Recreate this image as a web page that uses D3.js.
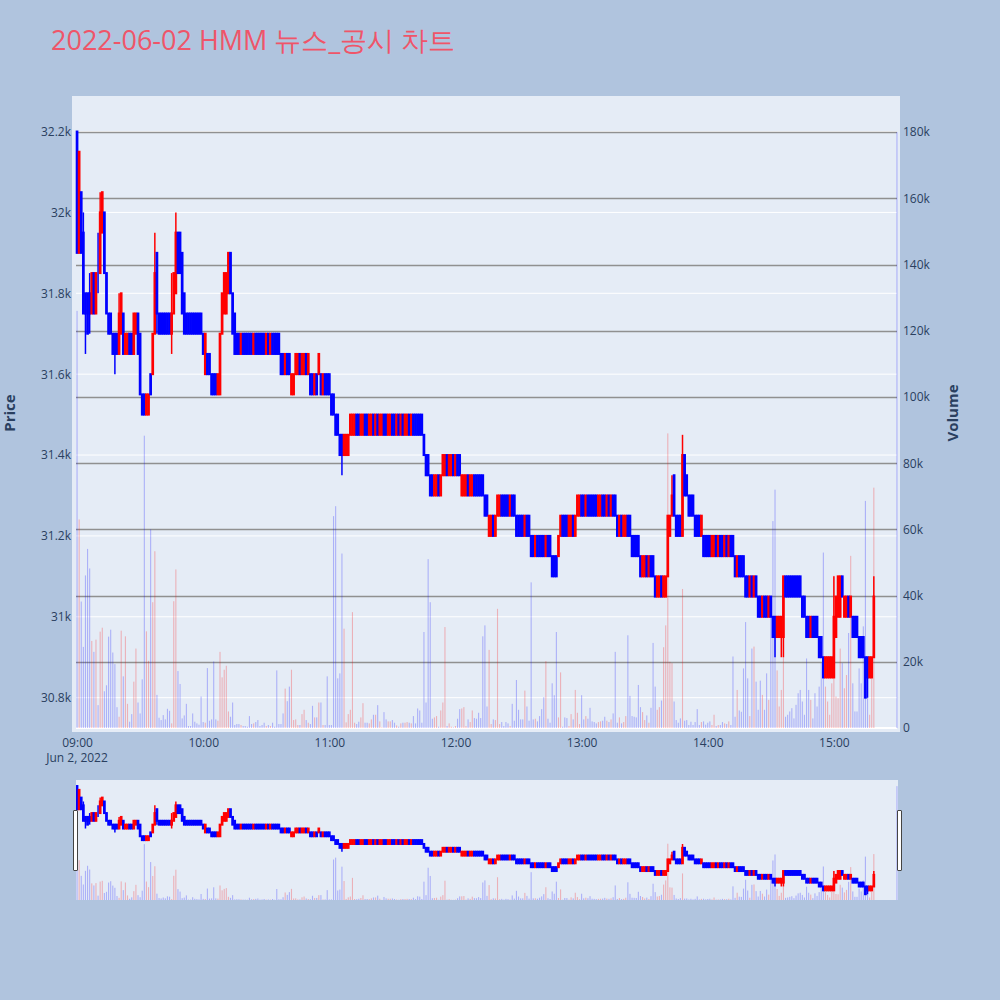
<!DOCTYPE html>
<html>
<head>
<meta charset="utf-8">
<script src="https://cdn.jsdelivr.net/npm/d3@7"></script>
<style>
  body { margin: 0; background: #b0c4de; }
  svg { display: block; }
</style>
</head>
<body>
<script>
// ---- data (1-minute candles, 2022-06-02, 09:00 .. 15:19 plus the 15:30 close) ----
const chartTitle = "2022-06-02 HMM 뉴스_공시 차트";
const sessionDay = "2022-06-02";
const firstMinute = "09:00";
const closingAuction = "15:30";

const open = [
  32200,31900,32050,31950,31800,31800,31800,31750,31850,31750,
  31850,31850,31950,32000,31850,31750,31750,31700,31700,31700,
  31650,31700,31750,31650,31650,31700,31700,31650,31700,31750,
  31700,31550,31550,31500,31500,31600,31600,31700,31900,31750,
  31750,31750,31750,31750,31750,31700,31750,31800,31950,31950,
  31900,31800,31750,31750,31750,31750,31750,31750,31750,31750,
  31700,31600,31650,31650,31600,31600,31600,31550,31550,31700,
  31750,31750,31800,31900,31800,31750,31700,31700,31650,31700,
  31700,31700,31700,31700,31650,31700,31700,31700,31700,31700,
  31650,31700,31650,31700,31700,31700,31700,31650,31650,31600,
  31650,31650,31550,31550,31600,31600,31650,31600,31600,31650,
  31600,31600,31600,31550,31600,31600,31600,31550,31600,31600,
  31600,31550,31550,31500,31500,31450,31450,31400,31400,31400,
  31450,31450,31450,31500,31500,31450,31450,31500,31500,31450,
  31450,31500,31450,31500,31450,31450,31500,31500,31450,31450,
  31500,31500,31450,31500,31450,31500,31450,31450,31500,31450,
  31500,31500,31500,31500,31500,31450,31400,31400,31350,31350,
  31300,31300,31350,31300,31350,31350,31400,31350,31350,31400,
  31350,31400,31400,31300,31300,31300,31350,31300,31300,31350,
  31350,31350,31350,31350,31300,31300,31200,31200,31250,31200,
  31250,31250,31300,31300,31300,31300,31250,31300,31300,31250,
  31250,31250,31250,31200,31250,31250,31200,31200,31150,31200,
  31200,31200,31200,31150,31200,31200,31150,31150,31150,31150,
  31200,31250,31250,31250,31200,31200,31250,31200,31250,31250,
  31300,31300,31250,31300,31300,31300,31300,31300,31250,31250,
  31300,31300,31250,31300,31250,31300,31300,31250,31200,31250,
  31200,31200,31250,31250,31200,31200,31200,31200,31150,31100,
  31100,31150,31100,31150,31150,31100,31050,31050,31100,31050,
  31050,31100,31200,31250,31350,31250,31250,31250,31200,31400,
  31350,31300,31300,31300,31250,31250,31250,31200,31200,31200,
  31200,31200,31150,31150,31200,31150,31200,31200,31150,31200,
  31150,31200,31200,31150,31100,31150,31150,31150,31100,31100,
  31050,31100,31050,31100,31050,31050,31000,31050,31050,31000,
  31050,31000,31000,30950,30950,30950,30950,31100,31100,31100,
  31100,31100,31100,31100,31100,31050,31050,31000,31000,30950,
  31000,31000,31000,30950,30950,30900,30850,30850,30850,30850,
  30850,30950,31000,31000,31100,31000,31000,31050,31000,31000,
  31000,31000,30950,30950,30950,30900,30900,30850,30850,30900,
  30850
];
const high = [
  32200,32150,32050,32000,31800,31800,31850,31850,31850,31850,
  31950,32050,32050,32000,31850,31750,31750,31700,31700,31700,
  31800,31800,31750,31700,31700,31700,31700,31750,31750,31750,
  31700,31550,31550,31550,31550,31600,31700,31950,31900,31750,
  31750,31750,31750,31750,31750,31850,31850,32000,31950,31950,
  31900,31800,31750,31750,31750,31750,31750,31750,31750,31750,
  31700,31700,31650,31650,31600,31600,31600,31600,31700,31800,
  31850,31850,31900,31900,31800,31750,31700,31700,31700,31700,
  31700,31700,31700,31700,31700,31700,31700,31700,31700,31700,
  31700,31700,31700,31700,31700,31700,31700,31650,31650,31650,
  31650,31650,31600,31600,31650,31650,31650,31650,31650,31650,
  31650,31600,31600,31600,31600,31650,31600,31600,31600,31600,
  31600,31550,31550,31500,31500,31450,31450,31450,31450,31450,
  31500,31500,31500,31500,31500,31500,31500,31500,31500,31500,
  31500,31500,31500,31500,31500,31500,31500,31500,31500,31500,
  31500,31500,31500,31500,31500,31500,31500,31500,31500,31500,
  31500,31500,31500,31500,31500,31450,31400,31400,31350,31350,
  31350,31350,31350,31350,31400,31400,31400,31400,31400,31400,
  31400,31400,31400,31350,31350,31350,31350,31350,31350,31350,
  31350,31350,31350,31350,31300,31300,31250,31250,31250,31250,
  31300,31300,31300,31300,31300,31300,31300,31300,31300,31250,
  31250,31250,31250,31250,31250,31250,31200,31200,31200,31200,
  31200,31200,31200,31200,31200,31200,31150,31150,31150,31200,
  31250,31250,31250,31250,31250,31250,31250,31250,31300,31300,
  31300,31300,31300,31300,31300,31300,31300,31300,31300,31300,
  31300,31300,31300,31300,31300,31300,31300,31250,31250,31250,
  31250,31250,31250,31250,31200,31200,31200,31200,31150,31150,
  31150,31150,31150,31150,31150,31100,31100,31100,31100,31100,
  31100,31250,31250,31350,31350,31250,31250,31250,31450,31400,
  31350,31300,31300,31300,31250,31250,31250,31250,31200,31200,
  31200,31200,31200,31200,31200,31200,31200,31200,31200,31200,
  31200,31200,31200,31150,31150,31150,31150,31150,31100,31100,
  31100,31100,31100,31100,31050,31050,31050,31050,31050,31050,
  31050,31000,31000,31000,31000,31000,31100,31100,31100,31100,
  31100,31100,31100,31100,31100,31050,31050,31000,31000,31000,
  31000,31000,31000,30950,30950,30900,30900,30900,30900,30900,
  31100,31050,31100,31100,31100,31050,31050,31050,31050,31000,
  31000,31000,30950,30950,30950,30900,30900,30900,30900,31100,
  30850
];
const low = [
  31900,31900,31900,31750,31650,31700,31700,31750,31750,31750,
  31800,31850,31950,31850,31750,31700,31700,31650,31600,31650,
  31650,31700,31650,31650,31650,31650,31650,31650,31700,31650,
  31550,31500,31500,31500,31500,31550,31600,31700,31700,31700,
  31700,31700,31700,31700,31700,31650,31750,31800,31850,31850,
  31750,31700,31700,31700,31700,31700,31700,31700,31700,31700,
  31650,31600,31600,31600,31550,31550,31550,31550,31550,31700,
  31750,31750,31800,31800,31700,31650,31650,31650,31650,31650,
  31650,31650,31650,31650,31650,31650,31650,31650,31650,31650,
  31650,31650,31650,31650,31650,31650,31650,31600,31600,31600,
  31600,31600,31550,31550,31600,31600,31600,31600,31600,31600,
  31600,31550,31550,31550,31550,31600,31550,31550,31550,31550,
  31550,31500,31500,31450,31450,31400,31350,31400,31400,31400,
  31450,31450,31450,31450,31450,31450,31450,31450,31450,31450,
  31450,31450,31450,31450,31450,31450,31450,31450,31450,31450,
  31450,31450,31450,31450,31450,31450,31450,31450,31450,31450,
  31450,31450,31450,31450,31450,31400,31350,31350,31300,31300,
  31300,31300,31300,31300,31350,31350,31350,31350,31350,31350,
  31350,31350,31350,31300,31300,31300,31300,31300,31300,31300,
  31300,31300,31300,31300,31250,31250,31200,31200,31200,31200,
  31250,31250,31250,31250,31250,31250,31250,31250,31250,31200,
  31200,31200,31200,31200,31200,31200,31150,31150,31150,31150,
  31150,31150,31150,31150,31150,31150,31100,31100,31100,31150,
  31200,31200,31200,31200,31200,31200,31200,31200,31250,31250,
  31250,31250,31250,31250,31250,31250,31250,31250,31250,31250,
  31250,31250,31250,31250,31250,31250,31250,31200,31200,31200,
  31200,31200,31200,31200,31150,31150,31150,31150,31100,31100,
  31100,31100,31100,31100,31100,31050,31050,31050,31050,31050,
  31050,31100,31200,31250,31250,31200,31200,31200,31200,31300,
  31300,31250,31250,31250,31200,31200,31200,31200,31150,31150,
  31150,31150,31150,31150,31150,31150,31150,31150,31150,31150,
  31150,31150,31150,31100,31100,31100,31100,31100,31050,31050,
  31050,31050,31050,31050,31000,31000,31000,31000,31000,31000,
  31000,30950,30900,30950,30950,30900,30900,31050,31050,31050,
  31050,31050,31050,31050,31050,31000,31000,30950,30950,30950,
  30950,30950,30950,30900,30900,30850,30850,30850,30850,30850,
  30850,30950,31000,31000,31050,31000,31000,31000,31000,30950,
  30950,30950,30900,30900,30900,30800,30800,30850,30850,30900,
  30850
];
const close = [
  31900,32150,31900,31750,31750,31700,31750,31850,31750,31850,
  31850,32000,32050,31850,31750,31700,31700,31650,31650,31650,
  31750,31800,31650,31700,31700,31650,31650,31750,31750,31650,
  31550,31500,31500,31550,31550,31550,31700,31850,31750,31700,
  31700,31700,31700,31700,31700,31750,31850,31950,31850,31850,
  31750,31700,31700,31700,31700,31700,31700,31700,31700,31700,
  31650,31700,31600,31600,31550,31550,31550,31600,31700,31800,
  31850,31850,31900,31800,31700,31650,31650,31650,31700,31650,
  31650,31650,31650,31650,31700,31650,31650,31650,31650,31650,
  31700,31650,31700,31650,31650,31650,31650,31600,31600,31650,
  31600,31600,31600,31600,31650,31650,31600,31650,31650,31600,
  31650,31550,31550,31600,31550,31650,31550,31600,31550,31550,
  31550,31500,31500,31450,31450,31400,31400,31450,31450,31450,
  31500,31500,31500,31450,31450,31500,31500,31450,31450,31500,
  31500,31450,31500,31450,31500,31500,31450,31450,31500,31500,
  31450,31450,31500,31450,31500,31450,31500,31500,31450,31500,
  31450,31450,31450,31450,31450,31400,31350,31350,31300,31300,
  31350,31350,31300,31350,31400,31400,31350,31400,31400,31350,
  31400,31350,31350,31350,31350,31350,31300,31350,31350,31300,
  31300,31300,31300,31300,31250,31250,31250,31250,31200,31250,
  31300,31300,31250,31250,31250,31250,31300,31250,31250,31200,
  31200,31200,31200,31250,31200,31200,31150,31150,31200,31150,
  31150,31150,31150,31200,31150,31150,31100,31100,31100,31200,
  31250,31200,31200,31200,31250,31250,31200,31250,31300,31300,
  31250,31250,31300,31250,31250,31250,31250,31250,31300,31300,
  31250,31250,31300,31250,31300,31250,31250,31200,31250,31200,
  31250,31250,31200,31200,31150,31150,31150,31150,31100,31150,
  31150,31100,31150,31100,31100,31050,31100,31100,31050,31100,
  31100,31250,31250,31300,31250,31200,31200,31200,31400,31300,
  31300,31250,31250,31250,31200,31200,31200,31250,31150,31150,
  31150,31150,31200,31200,31150,31200,31150,31150,31200,31150,
  31200,31150,31150,31100,31150,31100,31100,31100,31050,31050,
  31100,31050,31100,31050,31000,31000,31050,31000,31000,31050,
  31000,30950,30950,31000,31000,31000,31100,31050,31050,31050,
  31050,31050,31050,31050,31050,31000,31000,30950,30950,31000,
  30950,30950,30950,30900,30900,30850,30900,30900,30900,30900,
  31000,31050,31100,31100,31050,31050,31050,31000,31050,30950,
  30950,30950,30900,30900,30900,30800,30850,30900,30900,31050,
  30850
];
const volume = [
  126000,63000,38200,24500,46100,54100,48200,26300,23000,26700,
  6900,29100,30300,11100,12900,27600,29700,22800,19300,6300,
  3400,29400,15600,27700,7300,1900,4200,14000,24000,7700,
  4400,14700,88300,29200,20300,60000,38000,53400,10000,3100,
  2400,3900,2600,5800,5200,1400,38300,47900,17200,13300,
  2900,3800,7300,600,600,4400,1900,1400,1000,9500,
  1800,1600,18100,2200,2600,20100,2600,2200,23000,15300,
  17600,18800,5000,3400,7700,900,1200,1200,900,600,
  600,400,3600,1200,1400,1800,2400,600,900,1600,
  600,900,600,1600,400,17400,1200,1200,4400,11900,
  8100,12500,17600,2400,2600,900,900,4200,5500,2400,
  1600,1200,6700,3200,3200,7700,7700,900,900,15600,
  900,900,64000,67000,15000,16500,52700,30000,1700,4200,
  5500,35000,1600,1200,1900,3200,7500,1600,1600,1400,
  2600,4000,4000,6900,2000,200,4800,2600,2000,2000,
  2400,1600,800,400,1400,1600,1600,1800,1600,1400,
  3600,1400,5900,5300,1600,29000,7700,51000,38000,2800,
  3200,3600,400,5300,7700,30500,600,1400,400,200,
  600,2800,5700,5900,6300,600,2600,1800,5300,3000,
  2800,4600,3000,27700,31000,6500,23600,1200,2600,2400,
  36000,1200,1800,600,1800,1400,600,7300,2200,14500,
  5500,2600,2600,11300,6500,2200,44000,2600,2800,2000,
  3600,5700,9300,20200,2800,1600,13500,9900,29000,3200,
  16800,400,3200,3000,600,4200,2600,11500,4600,1200,
  9900,2600,3600,2800,6100,2000,1800,1400,1800,2000,
  2200,3400,2200,1800,2600,4400,23000,1600,3200,1400,
  1800,3600,28000,9700,3600,3400,3200,13000,6300,4800,
  2400,3800,1600,6100,25700,12500,5500,6300,8300,24400,
  31000,89000,20000,19600,8000,2400,1600,2900,42000,2200,
  2400,900,1900,900,1800,5700,900,1800,2000,1000,
  1600,2000,900,4000,600,900,900,1800,1400,1200,
  2000,900,21600,3400,11500,5300,4900,18000,32000,15000,
  3600,24000,24600,14000,5500,14300,10000,5500,16500,8500,
  38300,62500,72000,17400,6500,11500,21600,3400,4000,5000,
  6000,2900,7000,10500,11500,8000,4000,21000,11500,8500,
  2900,10500,6500,12500,19600,53000,12500,8000,4000,13500,
  46000,9500,9000,24000,19600,12000,16000,28700,52000,13500,
  5000,5000,18000,13500,30700,68600,14500,4000,18000,72600,
  180000
];

const priceTicks = [30800, 31000, 31200, 31400, 31600, 31800, 32000, 32200];
const volumeTicks = [0, 20000, 40000, 60000, 80000, 100000, 120000, 140000, 160000, 180000];
const timeTicks = ["09:00", "10:00", "11:00", "12:00", "13:00", "14:00", "15:00"];

// ---- page ----
const W = 1000, H = 1000;
const font = "'Open Sans', verdana, arial, sans-serif";
const ink = "#2a3f5f";
const upColor = "red", downColor = "blue";

const parseTime = d3.timeParse("%Y-%m-%d %H:%M");
const start = parseTime(sessionDay + " " + firstMinute);
const times = open.map((d, i) => i < open.length - 1
  ? d3.timeMinute.offset(start, i)
  : parseTime(sessionDay + " " + closingAuction));

const candles = open.map((o, i) => ({
  t: times[i], o, h: high[i], l: low[i], c: close[i], v: volume[i],
  up: close[i] > o
}));

const svg = d3.select("body").append("svg")
    .attr("width", W)
    .attr("height", H)
    .style("background", "#b0c4de")
    .style("font-family", font);

// main plot area and range slider area
const plot = { left: 76, right: 897, top: 100, bottom: 728 };
const slider = { left: 76, right: 898, top: 780, bottom: 900 };

const halfMinute = 30 * 1000;
const x = d3.scaleTime()
    .domain([new Date(start - halfMinute), new Date(+times[times.length - 1] + halfMinute)])
    .range([76, 898]);

const yPrice = d3.scaleLinear().domain([30725, 32278]).range([plot.bottom, plot.top]);
const yVol = d3.scaleLinear().domain([0, 189700]).range([plot.bottom, plot.top]);
const sPrice = d3.scaleLinear().domain(yPrice.domain()).range([slider.bottom, slider.top]);
const sVol = d3.scaleLinear().domain(yVol.domain()).range([slider.bottom, slider.top]);

svg.append("text")
    .attr("x", 51)
    .attr("y", 50)
    .attr("fill", "#ef5569")
    .style("font-size", "27px")
    .text(chartTitle);

svg.append("rect")
    .attr("x", 72).attr("y", 96)
    .attr("width", 900 - 72).attr("height", 732 - 96)
    .attr("fill", "#e5ecf6");

// grid: white for price, gray for volume
const grid = svg.append("g");
grid.selectAll(".pg").data(priceTicks).join("line")
    .attr("x1", plot.left).attr("x2", plot.right)
    .attr("y1", d => yPrice(d)).attr("y2", d => yPrice(d))
    .attr("stroke", "#fff").attr("stroke-width", 1);
grid.selectAll(".vg").data(volumeTicks.slice(1)).join("line")
    .attr("x1", plot.left).attr("x2", plot.right)
    .attr("y1", d => Math.round(yVol(d)) + 0.5).attr("y2", d => Math.round(yVol(d)) + 0.5)
    .attr("stroke", "#909090").attr("stroke-width", 1.3);
grid.append("line")
    .attr("x1", plot.left).attr("x2", plot.right)
    .attr("y1", yVol(0)).attr("y2", yVol(0))
    .attr("stroke", "#fff").attr("stroke-width", 2);

function drawVolume(g, yv) {
  g.selectAll("rect").data(candles).join("rect")
      .attr("x", d => x(d.t) - 0.55)
      .attr("width", 1.1)
      .attr("y", d => yv(d.v))
      .attr("height", d => yv(0) - yv(d.v))
      .attr("fill", d => d.up ? upColor : downColor)
      .attr("fill-opacity", 0.25);
}

function drawCandles(g, yp) {
  const c = g.selectAll("g").data(candles).join("g")
      .attr("stroke", d => d.up ? upColor : downColor)
      .attr("fill", d => d.up ? upColor : downColor);
  c.append("line")
      .attr("x1", d => x(d.t)).attr("x2", d => x(d.t))
      .attr("y1", d => yp(d.h)).attr("y2", d => yp(d.l))
      .attr("stroke-width", 1.5);
  c.append("rect")
      .attr("x", d => x(d.t) - 0.35)
      .attr("width", 0.7)
      .attr("y", d => yp(Math.max(d.o, d.c)))
      .attr("height", d => Math.abs(yp(d.o) - yp(d.c)))
      .attr("stroke-width", 2);
}

svg.append("clipPath").attr("id", "mainClip")
  .append("rect").attr("x", 72).attr("y", 96).attr("width", 828).attr("height", 636);

const main = svg.append("g").attr("clip-path", "url(#mainClip)");
drawVolume(main.append("g"), yVol);
drawCandles(main.append("g"), yPrice);

// axes
const axisStyle = g => {
  g.select(".domain").remove();
  g.selectAll("line").remove();
  g.selectAll("text")
      .attr("fill", ink)
      .style("font-size", "12px")
      .style("font-family", font);
};

svg.append("g")
    .attr("transform", `translate(${plot.left},0)`)
    .call(d3.axisLeft(yPrice).tickValues(priceTicks).tickFormat(d3.format("~s")).tickSize(0).tickPadding(5))
    .call(axisStyle);

svg.append("g")
    .attr("transform", `translate(${plot.right},0)`)
    .call(d3.axisRight(yVol).tickValues(volumeTicks).tickFormat(d3.format("~s")).tickSize(0).tickPadding(6))
    .call(axisStyle);

const tickDates = timeTicks.map(t => parseTime(sessionDay + " " + t));
svg.append("g")
    .attr("transform", `translate(0,${plot.bottom})`)
    .call(d3.axisBottom(x).tickValues(tickDates).tickFormat(d3.timeFormat("%H:%M")).tickSize(0).tickPadding(10))
    .call(axisStyle);

svg.append("text")
    .attr("x", x(tickDates[0]))
    .attr("y", 762)
    .attr("text-anchor", "middle")
    .attr("fill", ink)
    .style("font-size", "12px")
    .text(d3.timeFormat("%b %-d, %Y")(start));

svg.append("text")
    .attr("transform", "translate(15,413) rotate(-90)")
    .attr("text-anchor", "middle")
    .attr("fill", ink)
    .style("font-size", "15px")
    .style("font-weight", "bold")
    .text("Price");

svg.append("text")
    .attr("transform", "translate(958,413) rotate(-90)")
    .attr("text-anchor", "middle")
    .attr("fill", ink)
    .style("font-size", "15px")
    .style("font-weight", "bold")
    .text("Volume");

// range slider
svg.append("rect")
    .attr("x", slider.left).attr("y", slider.top)
    .attr("width", slider.right - slider.left).attr("height", slider.bottom - slider.top)
    .attr("fill", "#e5ecf6");

svg.append("clipPath").attr("id", "sliderClip")
  .append("rect").attr("x", slider.left).attr("y", slider.top)
  .attr("width", slider.right - slider.left).attr("height", slider.bottom - slider.top);

const mini = svg.append("g").attr("clip-path", "url(#sliderClip)");
drawVolume(mini.append("g"), sVol);
drawCandles(mini.append("g"), sPrice);

[slider.left - 2, slider.right].forEach(hx => {
  svg.append("rect")
      .attr("x", hx - 0.5).attr("y", 810.5)
      .attr("width", 4).attr("height", 60)
      .attr("fill", "#fff")
      .attr("stroke", "#444")
      .attr("stroke-width", 1)
      .attr("rx", 0.5);
});
</script>
</body>
</html>
